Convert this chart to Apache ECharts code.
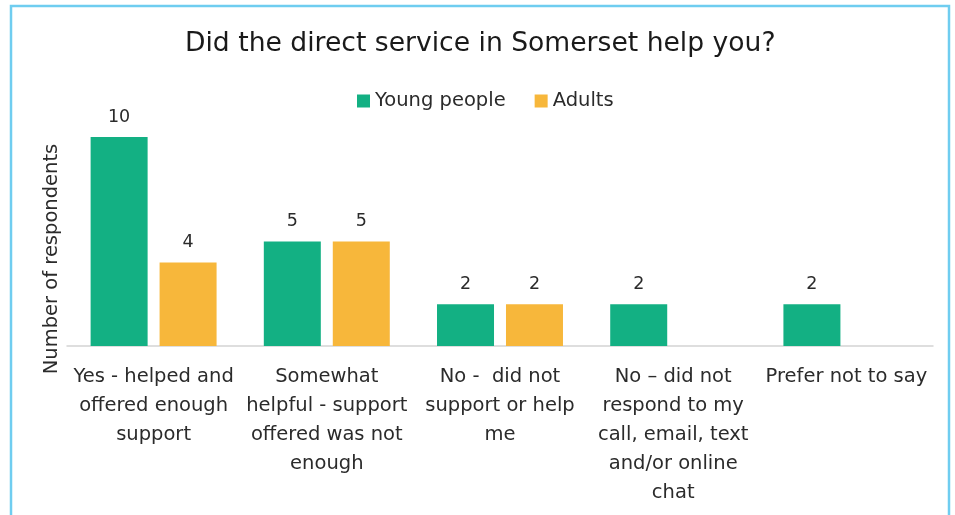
<!DOCTYPE html>
<html>
<head>
<meta charset="utf-8">
<script src="https://cdn.jsdelivr.net/npm/echarts@6/dist/echarts.min.js"></script>
<style>
  html, body { margin: 0; padding: 0; background: #fff; }
  #chart { width: 955px; height: 515px; }
</style>
</head>
<body>
<div id="chart"></div>
<script>
// Survey responses: did the direct service in Somerset help?
const categories = [
  'Yes - helped and\noffered enough\nsupport',
  'Somewhat\nhelpful - support\noffered was not\nenough',
  'No -  did not\nsupport or help\nme',
  'No \u2013 did not\nrespond to my\ncall, email, text\nand/or online\nchat',
  'Prefer not to say'
];
const youngPeople = [10, 5, 2, 2, 2];
const adults = [4, 5, 2, null, null];

const FONT = '"DejaVu Sans", "Open Sans", sans-serif';
const TEXT = '#2b2b2b';

const chart = echarts.init(document.getElementById('chart'), null, { renderer: 'canvas' });

const valueLabel = {
  show: true,
  position: 'top',
  distance: 11,
  color: TEXT,
  fontFamily: FONT,
  fontSize: 17.5
};

chart.setOption({
  animation: false,
  backgroundColor: '#ffffff',
  title: {
    text: 'Did the direct service in Somerset help you?',
    left: 180,
    top: 26,
    textStyle: { fontFamily: FONT, fontSize: 26.6, fontWeight: 'normal', color: '#1a1a1a' }
  },
  legend: {
    top: 86,
    left: 352,
    itemWidth: 13,
    itemHeight: 13,
    itemGap: 29,
    icon: 'rect',
    textStyle: { fontFamily: FONT, fontSize: 19.5, color: TEXT },
    data: ['Young people', 'Adults']
  },
  grid: { left: 67, right: 22, top: 137, bottom: 169 },
  xAxis: {
    type: 'category',
    data: categories,
    axisLine: { lineStyle: { color: '#d4d4d4', width: 1.5 } },
    axisTick: { show: false },
    axisLabel: {
      interval: 0,
      margin: 16,
      color: TEXT,
      fontFamily: FONT,
      fontSize: 19.5,
      lineHeight: 29,
      align: 'center',
      verticalAlign: 'top'
    }
  },
  yAxis: {
    type: 'value',
    min: 0,
    max: 10,
    axisLine: { show: false },
    axisTick: { show: false },
    axisLabel: { show: false },
    splitLine: { show: false }
  },
  series: [
    {
      name: 'Young people',
      type: 'bar',
      data: youngPeople,
      barWidth: 57,
      barGap: '21%',
      itemStyle: { color: '#13b083' },
      label: valueLabel
    },
    {
      name: 'Adults',
      type: 'bar',
      data: adults,
      barWidth: 57,
      barGap: '21%',
      itemStyle: { color: '#f7b73b' },
      label: valueLabel
    }
  ],
  graphic: [
    {
      type: 'rect',
      shape: { x: 11, y: 6, width: 938, height: 540 },
      style: { fill: 'none', stroke: '#6fcdf0', lineWidth: 2.5 },
      silent: true
    },
    {
      type: 'text',
      x: 52,
      y: 259,
      rotation: Math.PI / 2,
      style: {
        text: 'Number of respondents',
        fill: TEXT,
        font: '19.5px ' + FONT,
        align: 'center',
        verticalAlign: 'middle'
      }
    }
  ]
});
</script>
</body>
</html>
